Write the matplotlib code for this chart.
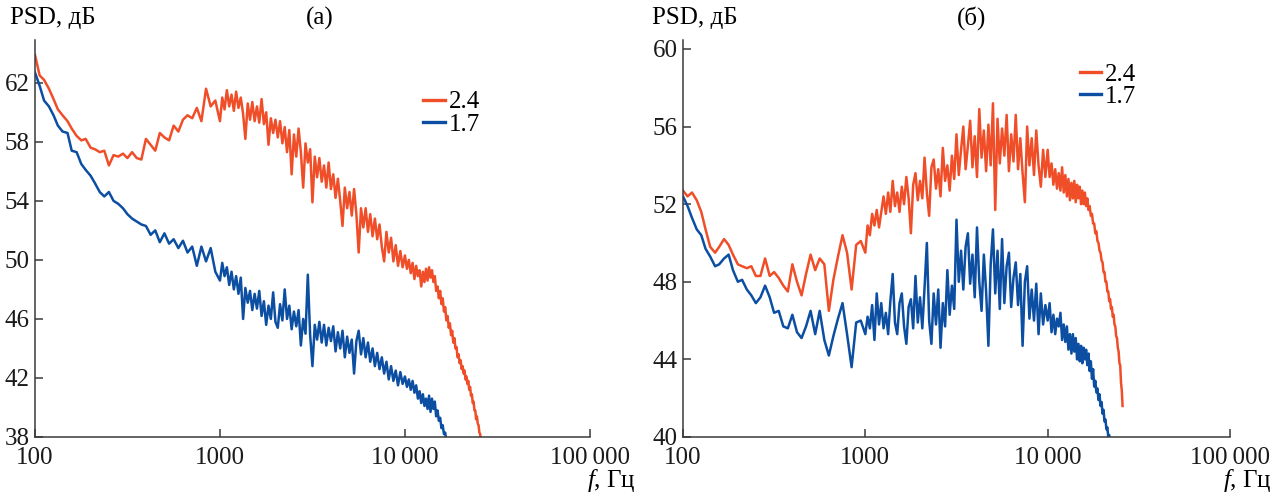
"""
PSD spectra for two regimes, panels (а) and (б)
"""
import matplotlib
matplotlib.use('Agg')
import matplotlib.pyplot as plt
from matplotlib.ticker import FixedLocator, NullLocator

# frequency grid, Hz (shared by all curves)
FREQ = [
    100, 106, 112, 119, 126, 133, 141, 150, 158, 168,
    178, 188, 200, 211, 224, 237, 251, 266, 282, 299,
    316, 335, 355, 376, 398, 422, 447, 473, 501, 531,
    562, 596, 631, 668, 708, 750, 794, 841, 891, 944,
    1000, 1029, 1059, 1090, 1122, 1155, 1189, 1223, 1259, 1296,
    1334, 1372, 1413, 1454, 1496, 1540, 1585, 1631, 1679, 1728,
    1778, 1830, 1884, 1939, 1995, 2054, 2113, 2175, 2239, 2304,
    2371, 2441, 2512, 2585, 2661, 2738, 2818, 2901, 2985, 3073,
    3162, 3255, 3350, 3447, 3548, 3652, 3758, 3868, 3981, 4097,
    4217, 4340, 4467, 4597, 4732, 4870, 5012, 5158, 5309, 5464,
    5623, 5788, 5957, 6131, 6310, 6494, 6683, 6879, 7079, 7286,
    7499, 7718, 7943, 8175, 8414, 8660, 8913, 9173, 9441, 9716,
    10000, 10250, 10500, 10750, 11000, 11250, 11500, 11750, 12000, 12250,
    12500, 12750, 13000, 13250, 13500, 13750, 14000, 14250, 14500, 14750,
    15000, 15250, 15500, 15750, 16000, 16250, 16500, 16750, 17000, 17250,
    17500, 17750, 18000, 18250, 18500, 18750, 19000, 19250, 19500, 19750,
    20000, 20250, 20500, 20750, 21000, 21250, 21500, 21750, 22000, 22250,
    22500, 22750, 23000, 23250, 23500, 23750, 24000, 24250, 24500, 24750,
    25000, 25250, 25500, 25750, 26000,
]

# panel (а), dB
A_RED = [
    63.9, 62.5, 62.2, 61.6, 60.9, 60.2, 59.8, 59.4, 58.9, 58.4,
    58.1, 58.2, 57.6, 57.5, 57.3, 57.4, 56.4, 57.1, 57.0, 57.2,
    56.9, 57.3, 56.9, 56.8, 58.2, 57.8, 57.4, 58.6, 58.3, 58.1,
    59.1, 58.7, 59.5, 59.8, 59.6, 60.3, 59.4, 61.6, 60.4, 60.8,
    59.4, 61.0, 60.2, 61.5, 60.4, 61.2, 60.1, 61.4, 60.3, 61.0,
    59.9, 58.2, 60.6, 59.5, 60.7, 59.4, 60.4, 59.3, 60.9, 59.2,
    60.0, 57.8, 59.6, 58.6, 59.5, 58.3, 59.4, 57.9, 59.0, 57.3,
    58.8, 55.8, 58.5, 57.0, 58.9, 57.3, 54.9, 57.9, 56.6, 57.5,
    53.9, 57.0, 55.6, 56.9, 55.3, 56.4, 54.9, 56.6, 54.8, 55.8,
    54.2, 55.5, 54.0, 52.3, 54.9, 53.5, 54.6, 53.0, 54.8, 53.1,
    50.5, 53.5, 52.2, 53.5, 51.9, 53.1, 51.6, 52.8, 51.4, 52.4,
    50.9, 49.9, 51.9, 50.5, 51.5, 49.9, 51.0, 49.6, 50.6, 49.5,
    50.3, 49.4, 50.0, 49.1, 49.8, 48.7, 49.6, 48.9, 49.3, 48.2,
    49.2, 48.5, 49.4, 48.6, 49.5, 48.8, 49.3, 48.5, 48.9, 47.9,
    48.2, 47.4, 47.9, 47.0, 47.4, 46.5, 46.8, 45.9, 46.2, 45.4,
    45.7, 44.9, 45.2, 44.4, 44.7, 44.0, 44.1, 43.4, 43.6, 43.0,
    43.2, 42.6, 42.8, 42.3, 42.5, 41.9, 42.1, 41.6, 41.8, 41.2,
    41.4, 40.8, 40.9, 40.3, 40.4, 39.8, 39.8, 39.2, 39.4, 38.9,
    38.8, 38.3, 38.2, 37.6, 37.0,
]
A_BLUE = [
    62.7, 61.8, 60.8, 60.4, 59.8, 59.1, 58.7, 58.6, 57.4, 57.3,
    56.5, 56.1, 55.7, 55.2, 54.6, 54.3, 54.6, 54.0, 53.8, 53.5,
    53.1, 52.8, 52.6, 52.4, 52.3, 51.7, 52.0, 51.2, 51.8, 51.1,
    51.4, 50.8, 51.3, 50.5, 50.9, 49.6, 50.9, 49.9, 50.8, 49.2,
    48.6, 49.8, 48.9, 49.5, 48.3, 49.2, 48.0, 48.9, 47.7, 48.8,
    46.0, 48.1, 47.1, 47.9, 46.6, 47.7, 46.7, 47.9, 46.2, 47.2,
    45.6, 46.9, 46.0, 47.8, 45.8, 45.4, 47.0, 45.9, 48.0, 46.0,
    46.9, 45.3, 46.5, 45.5, 46.6, 44.2, 46.0, 45.0, 49.0, 44.9,
    42.8, 45.6, 44.6, 45.8, 44.4, 45.6, 44.2, 45.4, 44.5, 45.5,
    43.8, 45.1, 44.0, 45.2, 43.4, 44.8, 43.7, 44.6, 42.3, 44.5,
    45.2, 43.6, 44.7, 43.4, 44.4, 43.1, 44.0, 42.8, 43.7, 42.6,
    43.4, 42.3, 43.1, 41.9, 42.8, 41.8, 42.5, 41.5, 42.4, 41.6,
    42.1, 41.4, 41.9, 41.2, 41.8, 41.0, 41.5, 40.6, 41.1, 40.3,
    40.9, 40.1, 40.6, 39.9, 40.8, 39.7, 40.6, 39.9, 40.4, 39.4,
    39.8, 39.1, 39.3, 38.6, 38.8, 38.2, 38.3, 37.7, 37.6, 37.0,
]

# panel (б), dB
B_RED = [
    52.7, 52.4, 52.6, 52.2, 51.6, 50.7, 49.8, 49.5, 49.8, 50.2,
    49.9, 49.4, 48.9, 48.8, 48.7, 48.8, 48.3, 48.3, 49.2, 48.3,
    48.5, 48.2, 47.8, 47.5, 48.9, 48.0, 47.3, 48.4, 49.4, 48.6,
    49.2, 48.9, 46.5, 48.1, 49.3, 50.4, 49.5, 47.6, 49.9, 50.1,
    49.5, 50.9, 50.4, 51.5, 50.9, 51.7, 50.8, 51.6, 52.4, 51.5,
    52.6, 51.6, 53.2, 51.9, 52.6, 51.6, 52.9, 52.0, 53.4, 52.3,
    50.5, 53.0, 53.6, 52.2, 53.2, 52.3, 54.4, 52.6, 51.4, 53.9,
    54.3, 52.8, 53.8, 52.4, 54.9, 53.2, 54.0, 52.7, 54.5, 53.3,
    55.6, 53.5, 54.8, 56.0, 53.8, 55.0, 56.3, 53.9, 55.5, 53.4,
    56.9, 54.4, 55.8, 53.7, 56.1, 54.0, 57.2, 51.7, 56.4, 54.1,
    55.9, 54.5, 56.6, 53.7, 55.6, 54.2, 56.6, 53.8, 55.4, 53.6,
    52.1, 56.0, 54.0, 55.4, 53.5, 55.8, 54.0, 52.9, 54.8, 53.4,
    54.8, 53.4, 54.1, 53.0, 53.8, 52.8, 53.6, 52.7, 53.9, 52.6,
    53.5, 52.4, 53.3, 52.2, 53.1, 52.3, 53.2, 52.1, 53.0, 52.3,
    52.9, 52.0, 52.7, 52.0, 52.6, 51.9, 52.3, 51.7, 51.9, 51.4,
    51.5, 51.0, 51.0, 50.5, 50.6, 50.1, 50.0, 49.6, 49.5, 49.1,
    49.0, 48.5, 48.5, 48.0, 48.0, 47.5, 47.5, 47.0, 47.1, 46.6,
    46.7, 46.2, 46.3, 45.8, 45.7, 45.2, 45.1, 44.6, 44.4, 43.8,
    43.7, 42.8, 42.4, 41.6,
]
B_BLUE = [
    52.4, 51.9, 51.3, 50.7, 50.4, 49.7, 49.3, 48.8, 48.9, 49.2,
    49.4, 48.6, 48.0, 48.1, 47.6, 47.3, 46.9, 47.2, 47.8, 47.2,
    46.4, 46.5, 45.7, 45.6, 46.3, 45.4, 45.1, 45.7, 46.5, 45.3,
    46.5, 45.0, 44.2, 45.2, 46.1, 46.9, 45.3, 43.6, 45.9, 46.0,
    45.3, 46.2, 45.6, 46.8, 45.0, 47.4, 45.8, 46.9, 45.6, 46.4,
    45.3, 47.0, 48.4, 45.9, 45.3, 46.9, 47.4, 45.7, 44.8, 46.7,
    47.1, 45.6, 48.3, 45.9, 47.2, 45.6, 47.7, 50.0, 46.0, 44.8,
    47.4, 45.8, 47.6, 44.6, 46.9, 45.7, 48.6, 46.3, 47.8, 46.6,
    51.2, 48.0, 49.6, 47.6, 49.8, 50.5, 47.9, 49.4, 47.2, 50.8,
    48.0, 46.5, 49.4, 47.5, 44.7, 48.9, 50.7, 47.4, 49.6, 46.6,
    50.2, 46.9, 48.8, 49.5, 46.7, 48.2, 49.0, 46.8, 48.4, 44.7,
    48.0, 48.8, 46.1, 47.6, 46.0, 47.9, 45.3, 47.4, 45.8, 46.8,
    46.0, 46.9, 45.4, 46.3, 45.3, 46.1, 45.7, 46.4, 45.0, 45.8,
    44.9, 45.7, 44.5, 45.3, 44.3, 45.3, 44.4, 45.1, 44.0, 44.8,
    43.9, 44.7, 43.8, 44.6, 44.0, 44.5, 43.7, 44.3, 43.4, 43.9,
    43.0, 43.5, 42.6, 42.9, 42.3, 42.5, 41.9, 42.2, 41.6, 41.8,
    41.2, 41.4, 40.8, 40.9, 40.4, 40.5, 40.0, 40.1, 39.6, 39.5,
]

SERIES_LABELS = ['2.4', '1.7']
X_TICKS = [100, 1000, 10000, 100000]
X_TICKLABELS = ['100', '1000', '10\u2009000', '100\u2009000']
A_YTICKS = [38, 42, 46, 50, 54, 58, 62]
B_YTICKS = [40, 44, 48, 52, 56, 60]

RED = '#F04E28'
BLUE = '#0B4EA2'
AXIS_COLOR = '#3a3a3a'
FS = 18

plt.rcParams['font.family'] = ['Liberation Serif', 'DejaVu Serif']
plt.rcParams['mathtext.fontset'] = 'custom'
plt.rcParams['mathtext.it'] = 'Liberation Serif:italic'
plt.rcParams['mathtext.rm'] = 'Liberation Serif'


def draw_panel(ax, red, blue, ylim, yticks, legend_anchor):
    """Draw one PSD panel with two spectra"""
    ax.plot(FREQ[:len(red)], red, color=RED, lw=1.8, label=SERIES_LABELS[0])
    ax.plot(FREQ[:len(blue)], blue, color=BLUE, lw=1.8, label=SERIES_LABELS[1])

    ax.set_xscale('log')
    ax.set_xlim(100, 100000)
    ax.set_ylim(*ylim)
    ax.xaxis.set_major_locator(FixedLocator(X_TICKS))
    ax.set_xticklabels(X_TICKLABELS)
    ax.xaxis.set_minor_locator(NullLocator())
    ax.set_yticks(yticks)

    for side in ('top', 'right'):
        ax.spines[side].set_visible(False)
    for side in ('left', 'bottom'):
        ax.spines[side].set_color(AXIS_COLOR)
        ax.spines[side].set_linewidth(1.1)
    ax.tick_params(direction='in', length=6, width=1.1, color=AXIS_COLOR,
                   labelsize=FS, labelcolor='#1a1a1a')
    ax.tick_params(axis='x', pad=7)
    ax.tick_params(axis='y', pad=4)

    leg = ax.legend(loc='upper left', bbox_to_anchor=legend_anchor,
                    frameon=False, fontsize=FS, handlelength=0.85,
                    handletextpad=0.15, labelspacing=0.0, borderpad=0,
                    borderaxespad=0)
    for line in leg.get_lines():
        line.set_linewidth(2.4)


fig = plt.figure(figsize=(12.85, 4.94), dpi=100)
ax_a = fig.add_axes([0.0272, 0.1154, 0.4319, 0.8036])
ax_b = fig.add_axes([0.5315, 0.1154, 0.4257, 0.8036])

draw_panel(ax_a, A_RED, A_BLUE, (38, 64.9), A_YTICKS, (0.70, 0.872))
draw_panel(ax_b, B_RED, B_BLUE, (40, 60.46), B_YTICKS, (0.725, 0.942))

# labels in figure pixels, converted to fractions
W, H = 1285.0, 494.0
fig.text(10 / W, 1 - 18 / H, 'PSD, дБ', fontsize=FS, ha='left', va='center')
fig.text(320 / W, 1 - 18 / H, '(а)', fontsize=FS, ha='center', va='center')
fig.text(636 / W, 1 - 480 / H, '$f$, Гц', fontsize=FS, ha='right', va='center')
fig.text(652 / W, 1 - 18 / H, 'PSD, дБ', fontsize=FS, ha='left', va='center')
fig.text(972 / W, 1 - 18 / H, '(б)', fontsize=FS, ha='center', va='center')
fig.text(1272 / W, 1 - 480 / H, '$f$, Гц', fontsize=FS, ha='right', va='center')

fig.savefig('out.png', dpi=100)
